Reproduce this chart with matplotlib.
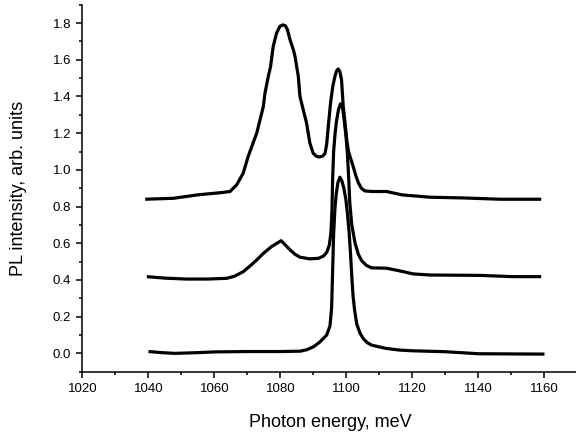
import matplotlib
matplotlib.use("Agg")
import matplotlib.pyplot as plt
from matplotlib.ticker import MultipleLocator

plt.rcParams["font.family"] = ["Liberation Sans", "DejaVu Sans"]

# bottom spectrum
e_low = [1040, 1044, 1048, 1055, 1060, 1070, 1080, 1086, 1088, 1090, 1092,
         1094, 1095.0, 1095.5, 1095.8, 1096.1, 1096.5, 1096.9, 1097.4, 1098.0,
         1098.6, 1099.2, 1099.8, 1100.3, 1100.8, 1101.2, 1101.6, 1102.0, 1102.5,
         1103.1, 1104.1, 1105.1, 1106.3, 1107.6, 1110, 1112, 1116, 1120, 1130,
         1140, 1160]
i_low = [0.01, 0.004, 0.0, 0.004, 0.008, 0.01, 0.01, 0.012, 0.02, 0.036, 0.063,
         0.10, 0.15, 0.25, 0.45, 0.65, 0.79, 0.87, 0.93, 0.96,
         0.94, 0.90, 0.84, 0.76, 0.66, 0.55, 0.42, 0.31, 0.23,
         0.16, 0.11, 0.08, 0.058, 0.045, 0.035, 0.027, 0.018, 0.014, 0.009,
         -0.002, -0.004]

# middle spectrum
e_mid = [1039.5, 1045, 1051.6, 1058, 1063.7, 1066, 1068.7, 1071, 1072.8, 1074.8,
         1077.3, 1079.2, 1080.2, 1081.5, 1082.9, 1084.4, 1085.9, 1088.9, 1091.5,
         1093.0, 1094.0, 1094.8, 1095.3, 1095.6, 1095.8, 1096.1, 1096.5, 1097.0,
         1097.6, 1098.2, 1098.8, 1099.3, 1099.8, 1100.2, 1100.6, 1101.0, 1101.6,
         1102.6, 1103.6, 1104.6, 1106, 1107.6, 1110, 1112.2, 1116, 1120.2,
         1125.3, 1140.5, 1150.5, 1159]
i_mid = [0.418, 0.41, 0.405, 0.405, 0.409, 0.42, 0.445, 0.48, 0.509, 0.545,
         0.582, 0.603, 0.614, 0.59, 0.564, 0.54, 0.524, 0.515, 0.518,
         0.53, 0.55, 0.59, 0.66, 0.78, 0.95, 1.10, 1.19, 1.27,
         1.33, 1.36, 1.34, 1.27, 1.19, 1.11, 0.98, 0.82, 0.70,
         0.60, 0.54, 0.505, 0.48, 0.466, 0.465, 0.464, 0.45, 0.433,
         0.427, 0.425, 0.418, 0.418]

# top spectrum
e_top = [1039, 1047.5, 1055, 1062, 1064.7, 1066.7, 1068.7, 1070.2, 1071.3, 1072.8,
         1073.8, 1074.8, 1075.3, 1076.3, 1077.0, 1077.8, 1078.8, 1079.8, 1080.7,
         1081.5, 1082.1, 1082.9, 1083.9, 1084.4, 1085.4, 1085.9, 1086.9, 1087.9,
         1088.9, 1089.9, 1090.8, 1091.7, 1092.8, 1093.5, 1094.0, 1094.5, 1095.2,
         1095.9, 1096.5, 1097.0, 1097.5, 1098.0, 1098.5, 1099.0, 1099.6, 1100.1,
         1100.6, 1101.3, 1102.0, 1102.8, 1103.6, 1104.5, 1105.6, 1108, 1112.2,
         1116.7, 1125.3, 1135.4, 1146.5, 1159]
i_top = [0.84, 0.845, 0.864, 0.876, 0.882, 0.918, 0.982, 1.073, 1.127, 1.20,
         1.273, 1.345, 1.418, 1.509, 1.564, 1.673, 1.745, 1.782, 1.79,
         1.785, 1.764, 1.709, 1.655, 1.618, 1.509, 1.40, 1.327, 1.255,
         1.146, 1.091, 1.075, 1.07, 1.075, 1.09, 1.14, 1.24, 1.37,
         1.46, 1.51, 1.54, 1.55, 1.535, 1.49, 1.35, 1.25, 1.16,
         1.10, 1.06, 1.02, 0.97, 0.93, 0.90, 0.885, 0.882, 0.882,
         0.864, 0.851, 0.847, 0.840, 0.84]

fig = plt.figure(figsize=(5.76, 4.41), dpi=100)
ax = fig.add_axes([0.1432, 0.1571, 0.8594, 0.8322])

for e, i in [(e_low, i_low), (e_mid, i_mid), (e_top, i_top)]:
    ax.plot(e, i, color="black", lw=2.3, solid_joinstyle="round",
            solid_capstyle="butt")

ax.set_xlim(1020, 1170)
ax.set_ylim(-0.1, 1.9)
ax.xaxis.set_minor_locator(MultipleLocator(10))
ax.yaxis.set_minor_locator(MultipleLocator(0.1))
ax.set_xticks([1020, 1040, 1060, 1080, 1100, 1120, 1140, 1160])
ax.set_yticks([0.0, 0.2, 0.4, 0.6, 0.8, 1.0, 1.2, 1.4, 1.6, 1.8])
ax.yaxis.set_major_formatter(plt.FuncFormatter(lambda v, p: f"{v:.1f}"))

for s in ["top", "right"]:
    ax.spines[s].set_visible(False)
for s in ["left", "bottom"]:
    ax.spines[s].set_linewidth(1.1)

ax.tick_params(which="major", direction="out", length=4.5, width=1.1, labelsize=9.5)
ax.tick_params(which="minor", direction="out", length=2.5, width=1.1)

ax.set_xlabel("Photon energy, meV", fontsize=13)
ax.set_ylabel("PL intensity, arb. units", fontsize=13)
ax.xaxis.set_label_coords(0.5, -0.115)
ax.yaxis.set_label_coords(-0.112, 0.5)

fig.savefig("out.png", dpi=100)
